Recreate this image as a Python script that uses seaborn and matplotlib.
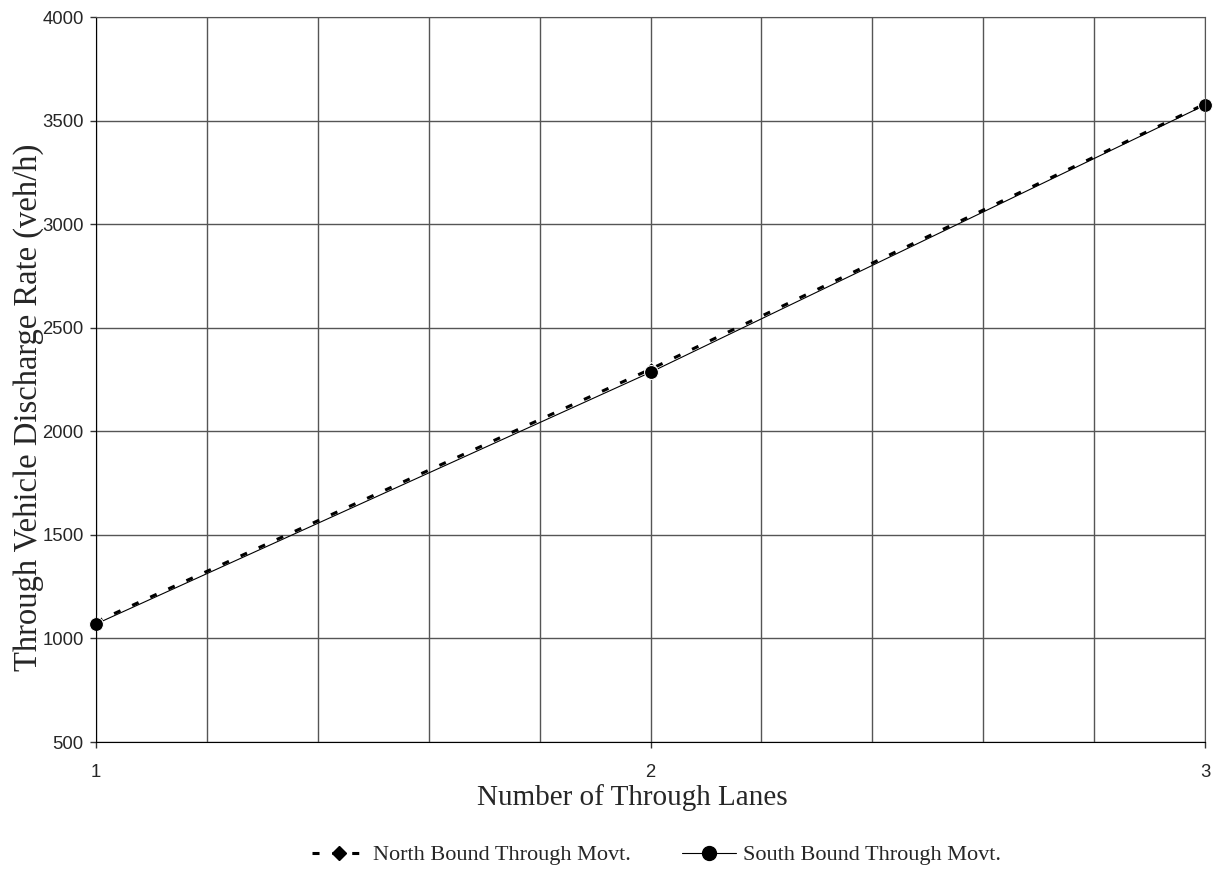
import pandas as pd
import matplotlib.pyplot as plt
import seaborn as sns
from matplotlib.ticker import MultipleLocator

# data
lanes = [1, 2, 3]
north = [1080, 2300, 3580]
south = [1070, 2285, 3575]
series_names = ["North Bound Through Movt.", "South Bound Through Movt."]

df = pd.DataFrame({
    "lanes": lanes * 2,
    "rate": north + south,
    "series": [series_names[0]] * 3 + [series_names[1]] * 3,
})

sns.set_style("white")
plt.rcParams['font.family'] = ['Liberation Sans', 'DejaVu Sans']

fig = plt.figure(figsize=(12.2, 8.73), dpi=100)
ax = fig.add_axes([0.0787, 0.15, 0.909, 0.8305])

north_dash = (2.3, 4.2)
ax = sns.lineplot(data=df, x="lanes", y="rate", hue="series", style="series",
                  palette=["black", "black"], dashes=[north_dash, ""],
                  markers=["D", "o"], ax=ax, legend=False)
ax.lines[0].set_linewidth(2.2)
ax.lines[0].set_markersize(7)
ax.lines[1].set_linewidth(0.8)
ax.lines[1].set_markersize(10)
for ln in ax.lines:
    ln.set_clip_on(False)

ax.set_xlim(1, 3)
ax.set_ylim(500, 4000)
ax.xaxis.set_major_locator(MultipleLocator(1))
ax.xaxis.set_minor_locator(MultipleLocator(0.2))
ax.yaxis.set_major_locator(MultipleLocator(500))
ax.grid(True, which="both", axis="x", color="#555555", linewidth=1)
ax.grid(True, which="major", axis="y", color="#555555", linewidth=1)
ax.set_axisbelow(True)
ax.tick_params(which="major", direction="out", length=4.5, width=1, color="#333333",
               labelsize=13.3, left=True, bottom=True)
ax.tick_params(which="minor", length=0)
ax.tick_params(axis="y", pad=4.5)
ax.tick_params(axis="x", pad=11)
for s in ax.spines.values():
    s.set_color("#555555")
ax.spines["left"].set_color("black")
ax.spines["bottom"].set_color("black")

ax.set_xlabel("Number of Through Lanes", fontsize=21, family="Liberation Serif")
ax.set_ylabel("Through Vehicle Discharge Rate (veh/h)", fontsize=23.5, family="Liberation Serif")
ax.xaxis.set_label_coords(0.4833, -0.058)
ax.yaxis.set_label_coords(-0.047, 0.4614)

handles = [
    plt.Line2D([], [], color="black", linestyle=(0, north_dash), linewidth=2.2, marker="D", markersize=7),
    plt.Line2D([], [], color="black", linestyle="-", linewidth=0.8, marker="o", markersize=10),
]
fig.legend(handles, series_names, loc="center", bbox_to_anchor=(0.538, 0.0206), ncol=2,
           frameon=False, prop={"family": "Liberation Serif", "size": 16},
           handlelength=2.43, handletextpad=0.3, columnspacing=2.3)

fig.savefig("out.png", dpi=100)
